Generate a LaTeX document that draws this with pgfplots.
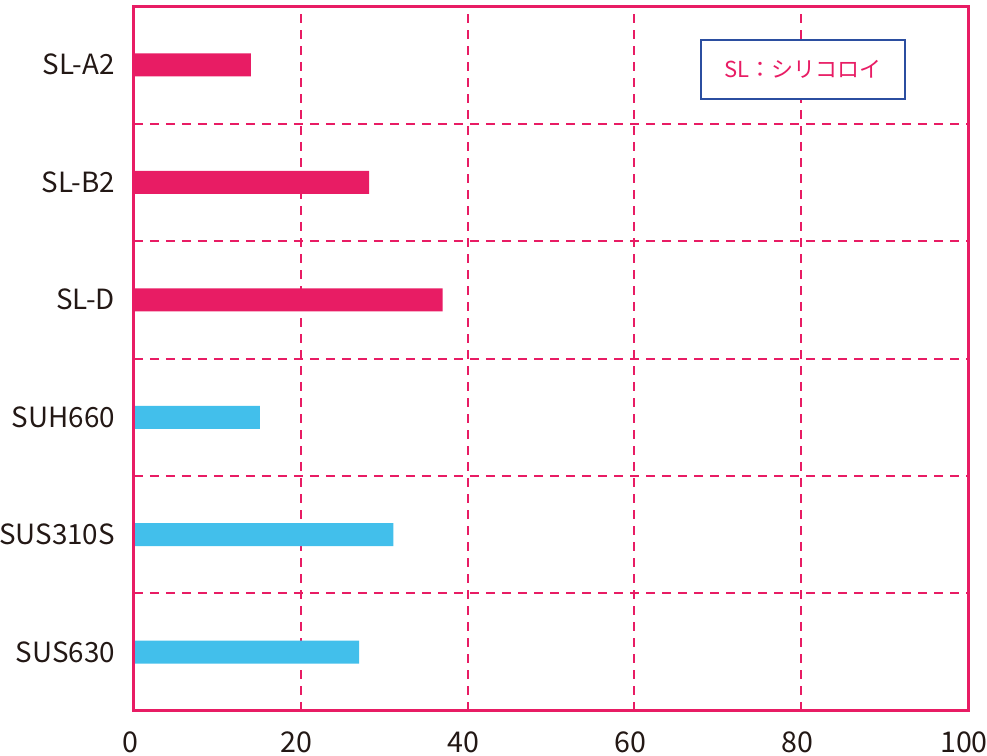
\documentclass[border=0pt]{standalone}
\usepackage{fontspec}
\setmainfont{Noto Sans CJK JP}
\usepackage{pgfplots}
\pgfplotsset{compat=1.18}

\definecolor{slpink}{RGB}{232,28,100}
\definecolor{susblue}{RGB}{66,191,235}
\definecolor{boxblue}{RGB}{43,78,160}
\definecolor{txt}{RGB}{35,24,21}

\begin{document}
\begin{tikzpicture}
\begin{axis}[
    at={(0pt,0pt)}, anchor=south west,
    scale only axis,
    width=417pt, height=352.5pt,
    xbar, bar width=11.5pt, bar shift=0pt,
    xmin=0, xmax=100,
    ymin=-0.5, ymax=5.5,
    xtick={0,20,40,60,80,100},
    ytick={0,1,2,3,4,5},
    yticklabels={SUS630,SUS310S,SUH660,SL-D,SL-B2,SL-A2},
    minor ytick={0.5,1.5,2.5,3.5,4.5},
    xmajorgrids, yminorgrids,
    grid style={slpink, line width=1pt, dash pattern=on 4.5pt off 3.5pt},
    minor grid style={slpink, line width=1pt, dash pattern=on 4.5pt off 3.5pt},
    axis line style={slpink, line width=1.5pt},
    major tick length=0pt, minor tick length=0pt,
    tick label style={font=\fontsize{14.3}{17}\selectfont, text=txt},
    /pgf/number format/assume math mode=true,
    xticklabel style={yshift=-7pt, xshift=-2pt},
    yticklabel style={xshift=-6pt, font=\fontsize{13.9}{17}\selectfont},
    clip=false,
]
\addplot[draw=none, fill=slpink] coordinates {(14.0,5) (28.2,4) (37.0,3)};
\addplot[draw=none, fill=susblue] coordinates {(15.1,2) (31.1,1) (27.0,0)};
\draw[slpink, line width=1.5pt] (rel axis cs:0,0) rectangle (rel axis cs:1,1);
\node[draw=boxblue, line width=1pt, fill=white, minimum width=102pt, minimum height=29.5pt,
      text=slpink, font=\fontsize{11}{13}\selectfont, inner sep=0pt]
      at (axis cs:80.2,4.96) {SL：シリコロイ};
\end{axis}
\pgfresetboundingbox
\useasboundingbox (-67pt,-22.5pt) rectangle (426.5pt,355.5pt);
\end{tikzpicture}
\end{document}
